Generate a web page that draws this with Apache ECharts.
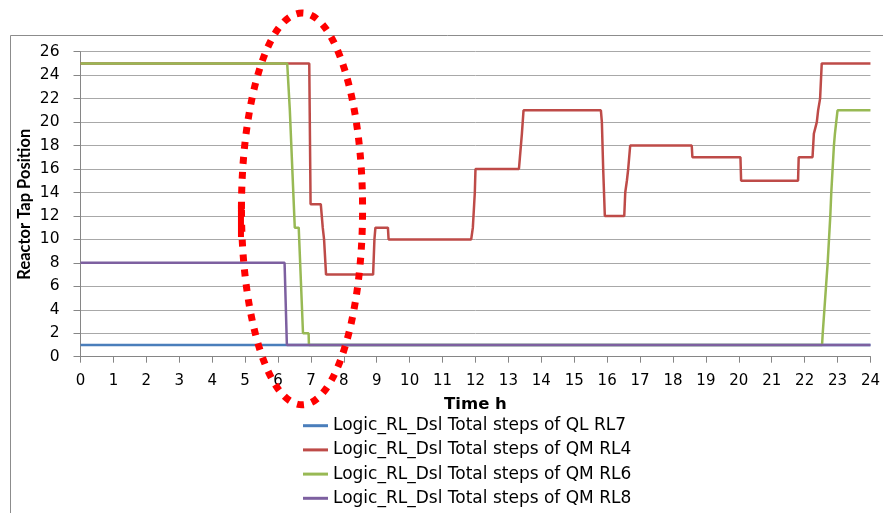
<!DOCTYPE html>
<html><head><meta charset="utf-8">
<script src="https://cdn.jsdelivr.net/npm/echarts/dist/echarts.min.js"></script>
<style>html,body{margin:0;padding:0;background:#fff}#c{width:883px;height:513px}</style>
</head><body><div id="c"></div>
<script>
// ---- data ----
const seriesNames = [
  'Logic_RL_Dsl Total steps of QL RL7',
  'Logic_RL_Dsl Total steps of QM RL4',
  'Logic_RL_Dsl Total steps of QM RL6',
  'Logic_RL_Dsl Total steps of QM RL8'
];
const seriesColors = ['#4A7EBB', '#BE4B48', '#98B954', '#7D60A0'];

const rl7Time  = [0, 24];
const rl7Value = [1, 1];

const rl4Time  = [0, 6.95, 6.99, 7.30, 7.36, 7.40, 7.46, 8.89, 8.93, 8.96, 9.34, 9.36, 11.87, 11.92, 11.96, 11.98, 12.00, 13.32, 13.35, 13.38, 13.41, 13.46, 15.81, 15.84, 15.88, 15.93, 16.52, 16.55, 16.60, 16.64, 16.70, 18.57, 18.59, 20.05, 20.07, 21.80, 21.82, 22.24, 22.28, 22.37, 22.41, 22.47, 22.52, 24];
const rl4Value = [25, 25, 13, 13, 11, 10, 7, 7, 10, 11, 11, 10, 10, 11, 13, 14, 16, 16, 17, 18, 19, 21, 21, 20, 16, 12, 12, 14, 15, 16, 18, 18, 17, 17, 15, 15, 17, 17, 19, 20, 21, 22, 25, 25];

const rl6Time  = [0, 6.28, 6.36, 6.51, 6.63, 6.76, 6.93, 6.94, 22.53, 22.55, 22.65, 22.70, 22.78, 22.81, 22.89, 22.92, 23.00, 24];
const rl6Value = [25, 25, 21, 11, 11, 2, 2, 1, 1, 2, 6, 8, 12, 14, 18, 19, 21, 21];

const rl8Time  = [0, 6.20, 6.27, 24];
const rl8Value = [8, 8, 1, 1];

const xMin = 0, xMax = 24, xStep = 1;
const yMin = 0, yMax = 26, yStep = 2;

// annotation (dotted red ellipse) in data units
const ellipseCenter = [6.73, 12.6];
const ellipseRadius = [1.84, 16.7];
const markSegment = [[4.875, 13.1], [4.875, 10.2]];

const zip = (t, v) => t.map((x, i) => [x, v[i]]);
const seriesData = [zip(rl7Time, rl7Value), zip(rl4Time, rl4Value), zip(rl6Time, rl6Value), zip(rl8Time, rl8Value)];

const FONT = '"DejaVu Sans"';
const chart = echarts.init(document.getElementById('c'));
const frame = {
  type: 'rect', shape: { x: 10.5, y: 35.5, width: 900, height: 600 },
  style: { fill: 'none', stroke: '#8c8c8c', lineWidth: 1 }, silent: true, z: -10
};
chart.setOption({
  animation: false,
  backgroundColor: '#fff',
  grid: { left: 80.5, right: 5, top: 51.7, bottom: 156.3, containLabel: false },
  xAxis: {
    type: 'value', min: xMin, max: xMax, interval: xStep,
    name: 'Time h', nameLocation: 'middle', nameGap: 40, nameMoveOverlap: false,
    nameTextStyle: { fontFamily: FONT, fontWeight: 'bold', fontSize: 16.5, color: '#000' },
    axisLine: { show: true, lineStyle: { color: '#868686', width: 1 } },
    axisTick: { show: true, length: 6, lineStyle: { color: '#868686' } },
    axisLabel: { fontFamily: FONT, fontSize: 15, color: '#000', margin: 17 },
    splitLine: { show: false }
  },
  yAxis: {
    type: 'value', min: yMin, max: yMax, interval: yStep,
    name: 'Reactor Tap Position', nameLocation: 'middle', nameGap: 47, nameMoveOverlap: false,
    nameTextStyle: { fontFamily: 'Lato', fontWeight: 'bold', fontSize: 16.5, color: '#000' },
    axisLine: { show: true, lineStyle: { color: '#868686', width: 1 } },
    axisTick: { show: true, length: 7, lineStyle: { color: '#868686' } },
    axisLabel: { fontFamily: FONT, fontSize: 15.5, color: '#000', margin: 21 },
    splitLine: { show: true, lineStyle: { color: '#a8a8a8', width: 1 } }
  },
  legend: {
    orient: 'vertical', left: 303, top: 415.7, padding: 0, height: 110,
    itemWidth: 25, itemHeight: 3, itemGap: 4.2, icon: 'rect',
    textStyle: { fontFamily: FONT, fontSize: 17, color: '#000', lineHeight: 20 },
    data: seriesNames
  },
  graphic: [frame],
  series: seriesNames.map((n, i) => ({
    name: n, type: 'line', data: seriesData[i], showSymbol: false, symbol: 'none',
    color: seriesColors[i], lineStyle: { color: seriesColors[i], width: 2.5 }, z: 2 + i
  }))
});

const c = chart.convertToPixel({ gridIndex: 0 }, ellipseCenter);
const e = chart.convertToPixel({ gridIndex: 0 }, [ellipseCenter[0] + ellipseRadius[0], ellipseCenter[1] + ellipseRadius[1]]);
const m1 = chart.convertToPixel({ gridIndex: 0 }, markSegment[0]);
const m2 = chart.convertToPixel({ gridIndex: 0 }, markSegment[1]);
chart.setOption({
  graphic: [frame, {
    type: 'ellipse', shape: { cx: c[0], cy: c[1], rx: e[0] - c[0], ry: c[1] - e[1] },
    style: { fill: 'none', stroke: '#FF0000', lineWidth: 7, lineDash: [7, 8] }, z: 100
  }, {
    type: 'line', shape: { x1: m1[0], y1: m1[1], x2: m2[0], y2: m2[1] },
    style: { stroke: '#FF0000', lineWidth: 6 }, z: 100
  }]
});
</script></body></html>
